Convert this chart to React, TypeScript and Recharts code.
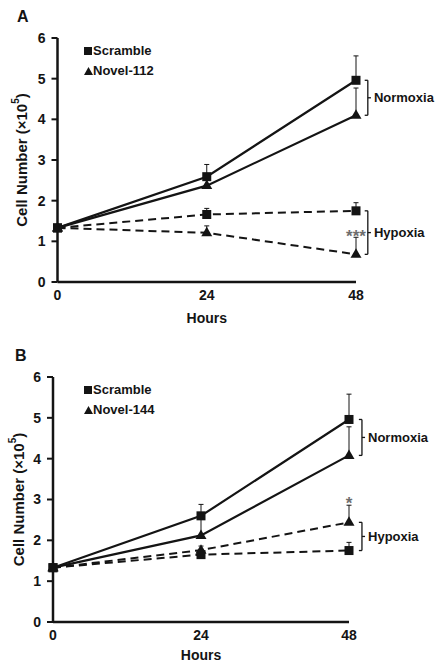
import {
  LineChart,
  Line,
  XAxis,
  YAxis,
  ErrorBar,
  Legend,
  ReferenceLine,
  ReferenceDot,
} from "recharts";

const hours = [0, 24, 48];
const hourTicks = [0, 24, 48];
const countTicks = [0, 1, 2, 3, 4, 5, 6];

// panel A: Scramble vs Novel-112
const scrambleNormA = [1.33, 2.59, 4.96];
const scrambleNormErrA = [0, 0.3, 0.6];
const novelNormA = [1.33, 2.37, 4.1];
const novelNormErrA = [0, 0.15, 0.67];
const scrambleHypA = [1.33, 1.66, 1.75];
const scrambleHypErrA = [0, 0.15, 0.2];
const novelHypA = [1.33, 1.21, 0.68];
const novelHypErrA = [0, 0.17, 0.42];

// panel B: Scramble vs Novel-144
const scrambleNormB = [1.33, 2.6, 4.96];
const scrambleNormErrB = [0, 0.28, 0.62];
const novelNormB = [1.33, 2.12, 4.08];
const novelNormErrB = [0, 0.5, 0.7];
const scrambleHypB = [1.33, 1.65, 1.75];
const scrambleHypErrB = [0, 0.1, 0.2];
const novelHypB = [1.33, 1.76, 2.44];
const novelHypErrB = [0, 0.1, 0.42];

const FONT = '"Liberation Sans", Arial, sans-serif';
const INK = "#141414";

type PanelData = {
  sN: number[];
  sNe: number[];
  nN: number[];
  nNe: number[];
  sH: number[];
  sHe: number[];
  nH: number[];
  nHe: number[];
};

const buildRows = (d: PanelData) =>
  hours.map((h, i) => ({
    hour: h,
    sN: d.sN[i],
    sNe: [0, d.sNe[i]],
    nN: d.nN[i],
    nNe: [0, d.nNe[i]],
    sH: d.sH[i],
    sHe: [0, d.sHe[i]],
    nH: d.nH[i],
    nHe: [0, d.nHe[i]],
  }));

const squareDot = (p: any) => {
  if (p.cx == null || p.cy == null) return <g key={`sq-${p.index}`} />;
  return (
    <rect
      key={`sq-${p.index}`}
      x={p.cx - 4.5}
      y={p.cy - 4.5}
      width={9}
      height={9}
      fill={INK}
    />
  );
};

const triangleDot = (p: any) => {
  if (p.cx == null || p.cy == null) return <g key={`tr-${p.index}`} />;
  const { cx, cy } = p;
  return (
    <polygon
      key={`tr-${p.index}`}
      points={`${cx},${cy - 6} ${cx - 5.5},${cy + 3.5} ${cx + 5.5},${cy + 3.5}`}
      fill={INK}
    />
  );
};

const LegendBox = ({ label }: { label: string }) => (
  <div style={{ fontFamily: FONT, fontWeight: "bold", fontSize: 13, color: INK, lineHeight: "20px" }}>
    <div style={{ display: "flex", alignItems: "center" }}>
      <svg width={8} height={8} style={{ marginRight: 1 }}>
        <rect x={0} y={0} width={8} height={8} fill={INK} />
      </svg>
      Scramble
    </div>
    <div style={{ display: "flex", alignItems: "center" }}>
      <svg width={9} height={8} style={{ marginRight: 0 }}>
        <polygon points="4.5,0 0,8 9,8" fill={INK} />
      </svg>
      {label}
    </div>
  </div>
);

const makeYLabel = (x: number) => (props: any) => {
  const vb = props.viewBox || { y: 0, height: 0 };
  const cy = vb.y + vb.height / 2;
  return (
    <text
      x={x}
      y={cy}
      transform={`rotate(-90 ${x} ${cy})`}
      textAnchor="middle"
      dominantBaseline="central"
      fill={INK}
      fontSize={15}
      fontWeight="bold"
      fontFamily={FONT}
    >
      Cell Number (×10
      <tspan dy={-6} fontSize={10}>
        5
      </tspan>
      <tspan dy={6}>)</tspan>
    </text>
  );
};

const bracket = (id: string, x: number, top: number, bottom: number) => [
  <ReferenceLine
    key={`${id}-v`}
    segment={[{ x, y: top }, { x, y: bottom }]}
    stroke={INK}
    strokeWidth={1.3}
    ifOverflow="visible"
  />,
  <ReferenceLine
    key={`${id}-t`}
    segment={[{ x: x - 0.5, y: top }, { x, y: top }]}
    stroke={INK}
    strokeWidth={1.3}
    ifOverflow="visible"
  />,
  <ReferenceLine
    key={`${id}-b`}
    segment={[{ x: x - 0.5, y: bottom }, { x, y: bottom }]}
    stroke={INK}
    strokeWidth={1.3}
    ifOverflow="visible"
  />,
  <ReferenceLine
    key={`${id}-m`}
    segment={[{ x, y: (top + bottom) / 2 }, { x: x + 0.5, y: (top + bottom) / 2 }]}
    stroke={INK}
    strokeWidth={1.3}
    ifOverflow="visible"
  />,
];

const noteLabel = (id: string, x: number, y: number, text: string) => (
  <ReferenceDot
    key={id}
    x={x}
    y={y}
    r={0}
    fill="none"
    stroke="none"
    ifOverflow="visible"
    label={{ value: text, position: "right", offset: 3, fill: INK, fontSize: 13, fontWeight: "bold" }}
  />
);

type PanelProps = {
  data: PanelData;
  label: string;
  height: number;
  axisHeight: number;
  margin: { top: number; right: number; bottom: number; left: number };
  yLabelX: number;
  bracketX: number;
  starY: number;
  stars: string;
};

function Panel({ data, label, height, axisHeight, margin, yLabelX, bracketX, starY, stars }: PanelProps) {
  const rows = buildRows(data);
  const last = hours.length - 1;
  const normTop = Math.max(data.sN[last], data.nN[last]);
  const normBot = Math.min(data.sN[last], data.nN[last]);
  const hypTop = Math.max(data.sH[last], data.nH[last]);
  const hypBot = Math.min(data.sH[last], data.nH[last]);
  return (
    <LineChart width={438} height={height} data={rows} margin={margin}>
      <XAxis
        dataKey="hour"
        type="number"
        domain={[0, 48]}
        ticks={hourTicks}
        tickLine={false}
        axisLine={{ stroke: INK, strokeWidth: 2.5 }}
        tick={{ fill: INK, fontSize: 14, fontWeight: "bold" }}
        height={axisHeight}
        label={{ value: "Hours", position: "insideBottom", offset: 0, fill: INK, fontSize: 14, fontWeight: "bold" }}
      />
      <YAxis
        domain={[0, 6]}
        ticks={countTicks}
        width={45}
        tickSize={6}
        tickMargin={6}
        axisLine={{ stroke: INK, strokeWidth: 2.5 }}
        tickLine={{ stroke: INK, strokeWidth: 2 }}
        tick={{ fill: INK, fontSize: 14, fontWeight: "bold" }}
        label={makeYLabel(yLabelX)}
      />
      <Legend
        layout="vertical"
        align="center"
        verticalAlign="middle"
        wrapperStyle={{ left: 84, top: margin.top + 3, width: "auto" }}
        content={() => <LegendBox label={label} />}
      />
      <Line
        dataKey="sH"
        stroke={INK}
        strokeWidth={2}
        strokeDasharray="8 5"
        dot={squareDot}
        activeDot={false}
        isAnimationActive={false}
      >
        <ErrorBar dataKey="sHe" width={2.5} stroke={INK} strokeWidth={1} />
      </Line>
      <Line
        dataKey="nH"
        stroke={INK}
        strokeWidth={2}
        strokeDasharray="8 5"
        dot={triangleDot}
        activeDot={false}
        isAnimationActive={false}
      >
        <ErrorBar dataKey="nHe" width={2.5} stroke={INK} strokeWidth={1} />
      </Line>
      <Line
        dataKey="nN"
        stroke={INK}
        strokeWidth={2.2}
        dot={triangleDot}
        activeDot={false}
        isAnimationActive={false}
      >
        <ErrorBar dataKey="nNe" width={2.5} stroke={INK} strokeWidth={1} />
      </Line>
      <Line
        dataKey="sN"
        stroke={INK}
        strokeWidth={2.2}
        dot={squareDot}
        activeDot={false}
        isAnimationActive={false}
      >
        <ErrorBar dataKey="sNe" width={2.5} stroke={INK} strokeWidth={1} />
      </Line>
      {bracket("norm", bracketX, normTop, normBot)}
      {bracket("hyp", bracketX, hypTop, hypBot)}
      {noteLabel("norm-l", bracketX + 0.5, (normTop + normBot) / 2, "Normoxia")}
      {noteLabel("hyp-l", bracketX + 0.5, (hypTop + hypBot) / 2, "Hypoxia")}
      <ReferenceDot
        x={48}
        y={starY}
        r={0}
        fill="none"
        stroke="none"
        ifOverflow="visible"
        label={{ value: stars, position: "center", fill: "#6e6e6e", fontSize: 17, fontWeight: "bold" }}
      />
    </LineChart>
  );
}

const panelA: PanelData = {
  sN: scrambleNormA,
  sNe: scrambleNormErrA,
  nN: novelNormA,
  nNe: novelNormErrA,
  sH: scrambleHypA,
  sHe: scrambleHypErrA,
  nH: novelHypA,
  nHe: novelHypErrA,
};

const panelB: PanelData = {
  sN: scrambleNormB,
  sNe: scrambleNormErrB,
  nN: novelNormB,
  nNe: novelNormErrB,
  sH: scrambleHypB,
  sHe: scrambleHypErrB,
  nH: novelHypB,
  nHe: novelHypErrB,
};

export default function App() {
  return (
    <div
      style={{
        position: "absolute",
        top: 0,
        left: 0,
        width: 438,
        height: 661,
        overflow: "hidden",
        background: "#fff",
        fontFamily: FONT,
      }}
    >
      <div style={{ position: "absolute", left: 17, top: 8, fontWeight: "bold", fontSize: 16, color: INK }}>A</div>
      <div style={{ position: "absolute", left: 15, top: 347, fontWeight: "bold", fontSize: 16, color: INK }}>B</div>
      <div style={{ position: "absolute", left: 0, top: 0 }}>
        <Panel
          data={panelA}
          label="Novel-112"
          height={330}
          axisHeight={41}
          margin={{ top: 38, right: 82, bottom: 7, left: 12.5 }}
          yLabelX={21}
          bracketX={49.9}
          starY={1.12}
          stars="***"
        />
      </div>
      <div style={{ position: "absolute", left: 0, top: 330 }}>
        <Panel
          data={panelB}
          label="Novel-144"
          height={345}
          axisHeight={38}
          margin={{ top: 47, right: 89, bottom: 15, left: 8 }}
          yLabelX={18}
          bracketX={50.1}
          starY={2.92}
          stars="*"
        />
      </div>
    </div>
  );
}
